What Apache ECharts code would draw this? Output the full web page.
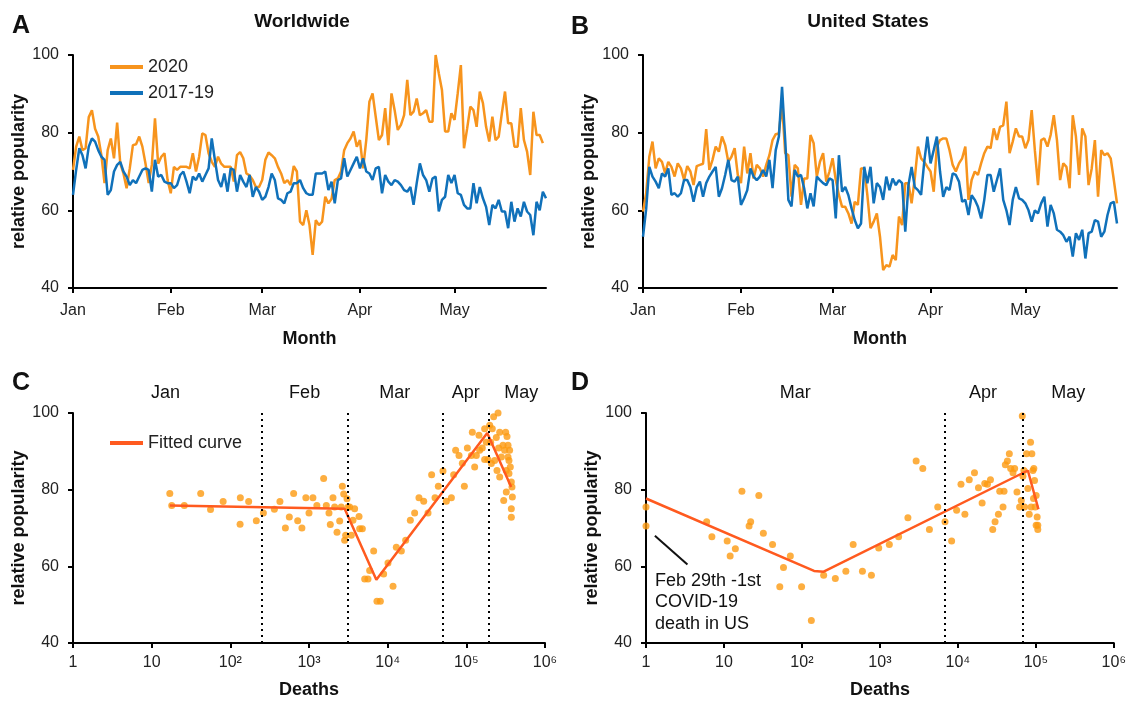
<!DOCTYPE html>
<html>
<head>
<meta charset="utf-8">
<script src="https://cdn.jsdelivr.net/npm/echarts@6/dist/echarts.min.js"></script>
<style>
html,body{margin:0;padding:0;background:#fff;}
#chart{width:1129px;height:701px;}
</style>
</head>
<body>
<div id="chart"></div>
<script>
// ---------- categories / ticks ----------
const monthNames = ['Jan','Feb','Mar','Apr','May'];
const monthStarts = [0,31,60,91,121];
const dayCount = 151;
const days = [];
for (let i = 0; i < dayCount; i++) days.push(i);

// ---------- Panel A: Worldwide ----------
const worldwide2020 = [
70.4,76.4,79,75.5,76,84,85.8,81,79,74.2,
67,75.5,78.5,73.4,82.6,72,69.5,65.7,70.8,76.8,
77,79,76.4,72,67,71.7,83.7,72,73.8,74.7,
67.8,64.4,71.2,70.4,71.2,71.2,71.2,70.8,74.7,70,
73.8,79.8,79.4,74.7,72.5,71.2,73.8,72,71.2,71.2,
71.2,67.4,74.2,75,73.4,69.5,69,67.8,66,66,
67.8,73,74.9,74.2,73.4,71.2,69.5,67,67.8,66.5,71.4,70,
57.1,56.2,60,56.2,48.5,57.5,56.2,57.1,63.5,61.8,
63,67.8,68.2,70,75.5,77.3,78.5,80.3,76.4,78.1,
70.8,78.1,88,90.1,84.1,78.1,79.4,86.3,76.8,90.1,
85.8,80.7,82,84.5,93.6,84.5,85.4,88.8,84.5,85,
85.8,82.8,82.8,100,95.3,91,80.3,80.3,85,83.3,
90.1,97.4,76,81.1,86.7,85.8,81.5,90.6,87.6,81.5,
77.7,84.1,78.1,79,85,90.6,82.4,82.4,76.4,76.4,
86.3,78.1,75.1,69.1,85.4,79.4,79.4,77.3
];
const worldwide1719 = [
64,70.4,76,74.2,70.8,76.4,78.5,77.7,75.5,73.8,
73,64,65.2,70,71.7,72.5,70,68.7,66.5,67.8,
67,68.7,70.4,70.8,70.4,64.8,73,68.7,69.1,67.4,
67,67,65.7,66.5,69.1,70,67.4,64.4,68.7,67.8,
69.5,67.4,69.1,70.8,78.5,73,67.8,66,69.5,64.8,
70.8,70.4,64.8,69.1,67.4,66,69.1,63.5,66,64.8,
62.7,63.5,66,69.5,67.8,63.1,62.7,61.8,64.4,64.8,
67,67,67.8,65.7,64.4,64,
64,69.5,69.5,69.5,70,65.2,67.4,61.8,67.8,68.2,
73.4,68.7,70.4,72.1,73.8,70.8,73.4,70,69.5,67.8,
70.8,71.2,64.4,69.1,67.4,66.5,67.8,67.4,66.5,65.2,
64.8,66,61.4,67,72.1,69.1,67.8,64.8,68.2,68.7,
59.7,62.7,63.5,69.1,67,69.1,64.4,64,61.4,60.5,
60.5,67,61.8,66,63.1,60.9,56.2,61.4,60.5,62.7,
59.7,59.7,55.4,62.2,57.1,60.5,58.4,62.2,59.7,58.8,
53.6,62.2,60,64.8,63.1
];

// ---------- Panel B: United States ----------
const us2020 = [
59.7,64.4,73.8,77.7,70.8,73.4,72.5,69.5,72.5,71.2,
68.7,72.1,70.8,67.8,71.4,70,66.5,71.4,71.7,72,
80.9,70.4,73,76.4,75.1,79,76.8,72.5,73.8,76,
69.1,67,76.4,69.5,74.7,68.2,71.7,70.8,68.7,71.7,
74.2,78.1,79.6,79.8,87.6,74.7,74.2,63.5,71.7,70.8,
61.4,68.2,68.2,79.4,77.3,68.7,72.5,74.7,67.4,70,
73.4,67.8,63.9,60.9,60.9,59.2,56.6,62.2,61.4,70.8,
70.8,63.9,55.4,
57.1,59.2,53.2,44.6,45.9,45.5,48.5,47.2,58.4,56.2,
67,67,61.8,68.2,76.4,73.4,72.5,71.2,70,64.8,
76.4,78.1,78.5,78.5,75.5,71.7,70,72.1,73.4,76.4,
62.7,67.8,70,69.1,72.1,74.7,76.4,76,81.1,78.1,
81.5,81.9,88,74.7,77.7,81.1,79,79,76,78.1,
85.8,75.5,66.5,78.1,78.5,76.4,79.4,84.5,78.1,67.8,
72.1,71.2,65.7,84.5,79,69.1,81.1,79,66.5,70.8,
78.1,63.5,75.5,74.2,74.7,73.4,67.8,61.8
];
const us1719 = [
53.2,60.3,71.2,68.7,67.4,65.7,69.5,68.7,70.8,64,
64.4,63.5,64.4,67.8,67.8,66,62.2,66,67.4,63.5,
67,68.7,70,71.2,63.5,65.7,69.1,73,67.8,67.4,
68.7,61.4,63.1,65.2,70.8,68.7,67.8,68.7,70.4,68.7,
73,65.7,75.5,79,91.8,78.1,62.7,61,70.4,68.7,
69.1,65.7,60.5,64.4,61,68.7,67.8,67,66.5,68.2,
67.8,57.9,74.2,64.8,66,63.9,60.5,57.5,55.4,56.6,
71.2,67,71.2,
61.8,67,66,62.7,68.7,65.2,68.2,66.5,67.8,67,
54.5,66.5,71.2,66,65.2,64,72.5,79,72.1,75.5,
79,70,63.5,66,65.2,69.5,69.1,67.4,62.2,62.7,
58.8,63.9,62.7,60.9,57.9,62.7,69.1,69.1,64.8,67.8,
70.8,62.7,60,56.2,62.7,66,63.1,62.7,61.8,60,
57.1,60,59.2,61.8,63.5,55.8,61.4,59.2,55,54.5,
53.6,51.9,53.2,48.1,54.1,52.4,55,47.6,54.1,54.5,
57.5,57.1,53.2,54.5,58.8,61.8,62.2,56.6
];

// ---------- Panel C: Worldwide deaths vs popularity ----------
const worldDeaths = [17,18,26,42,56,81,133,134,171,214,263,363,427,501,562,638,718,813,912,1000,
1122,1259,1535,1660,1795,1866,2018,2118,2270,2455,2570,2655,2761,2838,2924,3041,3133,3289,3451,3622,3802,4325,4406,4764,
5105,5623,5902,6637,7311,8072,8892,10093,11695,12882,14928,16943,19409,22029,25003,28708,32584,36224,39994,44055,
50466,55719,64565,69024,73114,80724,88920,94406,103039,115878,119124,127644,133968,144877,147571,159588,171002,171002,
179473,188365,198153,203704,213796,222331,240436,252930,257632,265461,278612,292415,306902,316228,322104,328851,
338844,348337,348337,362243,373250,384592,373250,298538,245471,265461,373250,322104,229087,207970,338844,354813,380189];
const worldPop = [79,75.9,75.9,79,74.8,76.9,71,77.9,76.9,71.9,73.9,74.9,76.9,70,72.9,79,71.9,70,77.9,73.9,
77.9,75.9,82.9,75.9,73.9,70.9,77.9,75.5,68.9,71.8,75.5,80.9,78.9,66.8,68.1,77.6,75.5,75.5,68.1,72,75,73,69.8,69.8,
56.7,56.7,58.9,64,50.9,50.9,58,60.9,54.8,65,64,66.8,72,73.9,77.9,77,73.9,83.9,77.9,80.9,
84.9,77,77.9,83.9,90.3,88.9,86.9,80.9,90.9,88.9,95,85.9,88.9,94.2,90.3,90.9,87.9,95.9,
92.4,87.9,96.8,92.4,95.9,99,93.6,100,90.9,95,88.5,91.6,90.3,95,85,93.9,
88.5,84.2,87.6,85.9,82,78.1,75,77.2,85,83.3,72.8,79.4,87.6,86.8,91.6,90.3,80.7];
const worldFitDeaths = [17,2838,7178,184500,371500];
const worldFitPop = [75.9,75,56.5,94.8,80.7];
const worldMonthBounds = [253,3070,50000,190000];
const worldMonthLabelAt = [15,880,12300,98000,500000];

// ---------- Panel D: US deaths vs popularity ----------
const usDeaths = [1,1,6,7,11,12,14,17,21,22,28,32,42,52,58,71,99,132,190,268,366,454,597,778,966,
1321,1738,2286,2917,3548,4315,5521,6839,8318,9638,10965,12303,13996,16331,18365,20464,22131,23933,26182,27990,
29992,33113,34435,37931,39084,40644,43152,45709,47534,50933,53456,57280,61944,65013,66988,68234,70307,71614,
76033,79068,82224,85507,88920,87096,91622,93325,96161,97949,100925,103992,100925,105925,105925,94189];
const usPop = [75.5,70.5,71.6,67.7,66.6,62.7,64.6,79.6,70.5,71.6,78.5,68.6,65.7,54.7,59.7,62.7,54.7,45.9,57.7,56.8,58.7,65.7,58.7,57.7,64.8,
65.7,67.7,72.7,87.5,85.5,69.6,75.5,71.6,66.6,74.6,81.4,73.6,82.6,84.4,80.5,76.5,81.6,81.4,82.6,69.6,
71.6,73.6,79.6,75.5,79.6,86.5,87.5,89.4,85.5,84.4,85.5,79.4,75.5,77.2,99.2,83.5,85,75.5,
89.4,80.3,73.6,92.4,89.4,75.5,85,77.7,82.4,75.5,78.5,72.9,70.7,69.6,70.7,85.5];
const usFitDeaths = [1,143,190,79000,108000];
const usFitPop = [77.7,58.8,58.6,85,74.9];
const usMonthBounds = [6840,67000];
const usMonthLabelAt = [82,21000,260000];
const usMonthLabelNames = ['Mar','Apr','May'];

const yTicks = [40,60,80,100];

// ---------- styles ----------
const FONT = 'Liberation Sans, Arial, sans-serif';
const ORANGE = '#F7941D';
const BLUE = '#1071BA';
const DOT = '#FD9A10';
const FIT = '#FF5A1F';
const SUP = {2:'\u00B2',3:'\u00B3',4:'\u2074',5:'\u2075',6:'\u2076'};

function zip(a, b){ return a.map((v,i)=>[v,b[i]]); }

const chart = echarts.init(document.getElementById('chart'), null, {renderer:'canvas'});

const axisLineStyle = {show:true, lineStyle:{color:'#000', width:2}};
const tickStyle = {show:true, length:5, lineStyle:{color:'#000', width:2}};

function yAxis(grid){
  return {
    type:'value', gridIndex:grid, min:yTicks[0], max:yTicks[yTicks.length-1], interval:20,
    name:'relative popularity', nameLocation:'middle', nameGap:44, nameRotate:90,
    nameTextStyle:{fontFamily:FONT, fontWeight:'bold', fontSize:18, color:'#111'},
    axisLine:axisLineStyle, axisTick:tickStyle, splitLine:{show:false},
    axisLabel:{fontFamily:FONT, fontSize:16, color:'#222', margin:14}
  };
}
function monthAxis(grid){
  const isStart = (i)=> monthStarts.indexOf(Number(i)) >= 0;
  return {
    type:'category', gridIndex:grid, data:days, boundaryGap:false,
    name:'Month', nameLocation:'middle', nameGap:42,
    nameTextStyle:{fontFamily:FONT, fontWeight:'bold', fontSize:18, color:'#111'},
    axisLine:axisLineStyle,
    axisTick:Object.assign({}, tickStyle, {interval:(i)=>isStart(i)}),
    axisLabel:{fontFamily:FONT, fontSize:16, color:'#222', margin:15,
      interval:(i)=>isStart(i),
      formatter:(v)=>{ const k = monthStarts.indexOf(Number(v)); return k>=0 ? monthNames[k] : ''; }},
    splitLine:{show:false}
  };
}
function logAxis(grid){
  return {
    type:'log', logBase:10, gridIndex:grid, min:1, max:1e6,
    name:'Deaths', nameLocation:'middle', nameGap:38,
    nameTextStyle:{fontFamily:FONT, fontWeight:'bold', fontSize:18, color:'#111'},
    axisLine:axisLineStyle, axisTick:tickStyle, minorTick:{show:false},
    splitLine:{show:false},
    axisLabel:{fontFamily:FONT, fontSize:16, color:'#222', margin:12,
      formatter:(v)=>{ const e = Math.round(Math.log10(v)); return e===0?'1':(e===1?'10':'10'+SUP[e]); }}
  };
}
function dotted(bounds){
  return {silent:true, symbol:'none', label:{show:false},
    lineStyle:{color:'#000', width:2, type:[2,4]},
    data:bounds.map(b=>({xAxis:b}))};
}

const option = {
  animation:false,
  backgroundColor:'#fff',
  grid:[
    {left:73, top:55, width:473, height:233},
    {left:643, top:55, width:474, height:233},
    {left:73, top:413, width:472, height:230},
    {left:646, top:413, width:471, height:230}
  ],
  xAxis:[monthAxis(0), monthAxis(1), logAxis(2), logAxis(3)],
  yAxis:[yAxis(0), yAxis(1), yAxis(2), yAxis(3)],
  legend:[
    {data:['2020','2017-19'], orient:'vertical', left:105, top:53, icon:'rect',
     itemWidth:33, itemHeight:4, itemGap:8,
     textStyle:{fontFamily:FONT, fontSize:18, color:'#222'}},
    {data:['Fitted curve'], orient:'vertical', left:105, top:429, icon:'rect',
     itemWidth:33, itemHeight:4,
     textStyle:{fontFamily:FONT, fontSize:18, color:'#222'}}
  ],
  series:[
    {name:'2020', type:'line', xAxisIndex:0, yAxisIndex:0, data:worldwide2020,
     showSymbol:false, color:ORANGE, lineStyle:{width:2.5, color:ORANGE}},
    {name:'2017-19', type:'line', xAxisIndex:0, yAxisIndex:0, data:worldwide1719,
     showSymbol:false, color:BLUE, lineStyle:{width:2.5, color:BLUE}},
    {name:'2020', type:'line', xAxisIndex:1, yAxisIndex:1, data:us2020,
     showSymbol:false, color:ORANGE, lineStyle:{width:2.5, color:ORANGE}},
    {name:'2017-19', type:'line', xAxisIndex:1, yAxisIndex:1, data:us1719,
     showSymbol:false, color:BLUE, lineStyle:{width:2.5, color:BLUE}},
    {name:'World daily', type:'scatter', xAxisIndex:2, yAxisIndex:2, data:zip(worldDeaths, worldPop),
     symbolSize:7, itemStyle:{color:DOT}, markLine:dotted(worldMonthBounds), z:2},
    {name:'Fitted curve', type:'line', xAxisIndex:2, yAxisIndex:2, data:zip(worldFitDeaths, worldFitPop),
     showSymbol:false, color:FIT, lineStyle:{width:2.5, color:FIT}, z:3},
    {name:'US daily', type:'scatter', xAxisIndex:3, yAxisIndex:3, data:zip(usDeaths, usPop),
     symbolSize:7, itemStyle:{color:DOT}, markLine:dotted(usMonthBounds), z:2},
    {name:'Fitted curve', type:'line', xAxisIndex:3, yAxisIndex:3, data:zip(usFitDeaths, usFitPop),
     showSymbol:false, color:FIT, lineStyle:{width:2.5, color:FIT}, z:3}
  ]
};
chart.setOption(option);

// ---------- text annotations ----------
function txt(x, y, text, font, align){
  return {type:'text', x:x, y:y, silent:true,
    style:{text:text, font:font, fill:'#111', align:align||'center', verticalAlign:'middle'}};
}
const g = [];
g.push(txt(21, 26, 'A', 'bold 25px '+FONT));
g.push(txt(580, 27, 'B', 'bold 25px '+FONT));
g.push(txt(21, 383, 'C', 'bold 25px '+FONT));
g.push(txt(580, 383, 'D', 'bold 25px '+FONT));
g.push(txt(302, 22, 'Worldwide', 'bold 19px '+FONT));
g.push(txt(868, 22, 'United States', 'bold 19px '+FONT));
const labY = 393;
worldMonthLabelAt.forEach((d,i)=>{
  const p = chart.convertToPixel({xAxisIndex:2}, d);
  g.push(txt(p, labY, monthNames[i], '18px '+FONT));
});
usMonthLabelAt.forEach((d,i)=>{
  const p = chart.convertToPixel({xAxisIndex:3}, d);
  g.push(txt(p, labY, usMonthLabelNames[i], '18px '+FONT));
});
// annotation in D
const a0 = chart.convertToPixel({gridIndex:3}, [1.3, 68]);
const a1 = chart.convertToPixel({gridIndex:3}, [3.4, 60.5]);
g.push({type:'line', silent:true, shape:{x1:a0[0], y1:a0[1], x2:a1[0], y2:a1[1]},
  style:{stroke:'#111', lineWidth:2}});
const tp = chart.convertToPixel({gridIndex:3}, [1.3, 59]);
g.push({type:'text', x:tp[0], y:tp[1], silent:true,
  style:{text:'Feb 29th -1st\nCOVID-19\ndeath in US', font:'18px '+FONT, lineHeight:21.5,
    fill:'#111', align:'left', verticalAlign:'top'}});
chart.setOption({graphic:g});
</script>
</body>
</html>
